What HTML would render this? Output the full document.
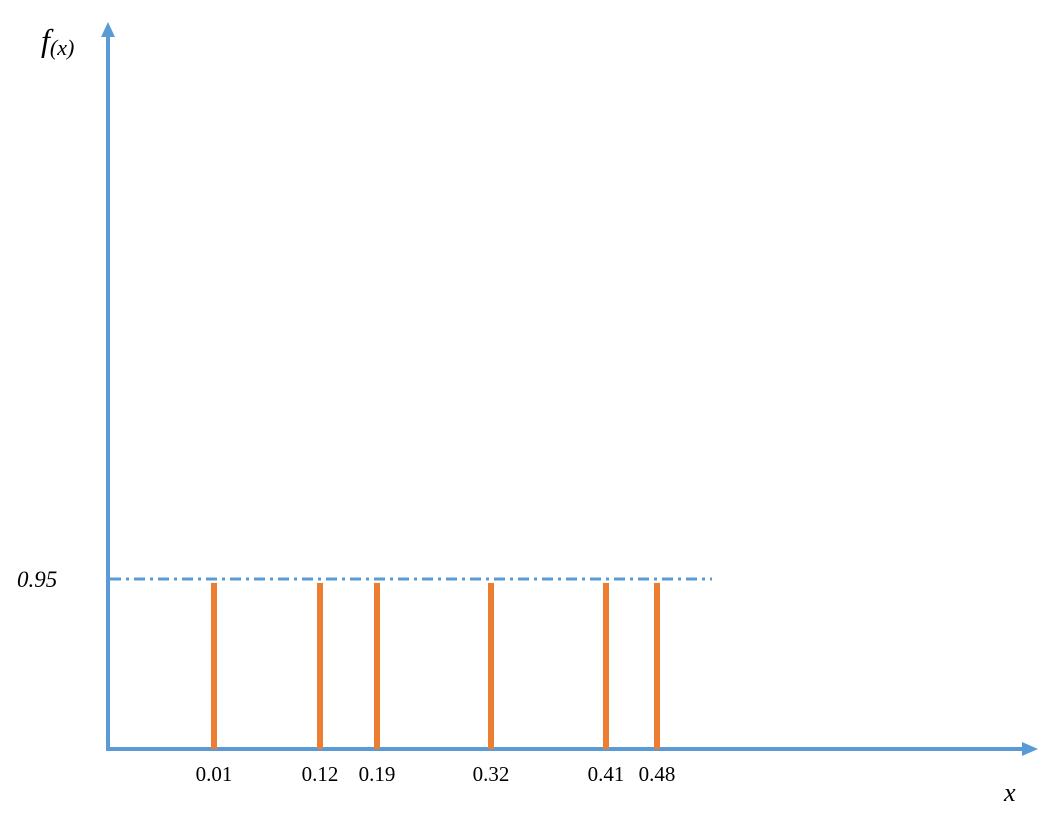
<!DOCTYPE html>
<html><head><meta charset="utf-8"><style>
html,body{margin:0;padding:0;background:#fff;}
svg{display:block;}
text{font-family:"Liberation Serif",serif;}
</style></head><body>
<svg id="chart" width="1053" height="818" viewBox="0 0 1053 818" xmlns="http://www.w3.org/2000/svg">
<line x1="108" y1="751" x2="108" y2="34" stroke="#5B9BD5" stroke-width="4"/>
<polygon points="108,22 101,37 115,37" fill="#5B9BD5"/>
<line x1="106" y1="749" x2="1024" y2="749" stroke="#5B9BD5" stroke-width="4"/>
<polygon points="1038,749 1022,742 1022,756" fill="#5B9BD5"/>
<text x="41" y="51" font-size="32" font-style="italic">f<tspan font-size="22" dy="4">(x)</tspan></text>
<text x="1004" y="801" font-size="26" font-style="italic">x</text>
<g id="marks"></g>
</svg>
<script>
const categories = ["0.01","0.12","0.19","0.32","0.41","0.48"];
const xValues = [0.01,0.12,0.19,0.32,0.41,0.48];
const probValues = [0.95,0.95,0.95,0.95,0.95,0.95];
const refLevel = [0.95];
const refLabel = ["0.95"];

// piecewise-linear x axis (the drawing's axis is not to scale)
const xDomain = [0, 0.01, 0.12, 0.19, 0.32, 0.41, 0.48, 1];
const xRange = [108, 214, 320, 377, 491, 606, 657, 1030];
function xScale(v) {
  for (let i = 0; i < xDomain.length - 1; i++) {
    if (v <= xDomain[i + 1] || i === xDomain.length - 2) {
      const t = (v - xDomain[i]) / (xDomain[i + 1] - xDomain[i]);
      return xRange[i] + t * (xRange[i + 1] - xRange[i]);
    }
  }
}
const yScale = v => 749 - v * 179;
const NS = "http://www.w3.org/2000/svg";
const g = document.getElementById("marks");

const ref = document.createElementNS(NS, "line");


ref.setAttribute("x1", 110); ref.setAttribute("x2", 712);
ref.setAttribute("y1", yScale(refLevel[0])); ref.setAttribute("y2", yScale(refLevel[0]));
ref.setAttribute("stroke", "#5B9BD5"); ref.setAttribute("stroke-width", "3");
ref.setAttribute("stroke-dasharray", "11 5 3 5");
g.appendChild(ref);

const rl = document.createElementNS(NS, "text");


rl.setAttribute("x", 17); rl.setAttribute("y", yScale(refLevel[0]) + 8);
rl.setAttribute("font-size", "23"); rl.setAttribute("font-style", "italic");
rl.textContent = refLabel[0];
g.appendChild(rl);

xValues.forEach((v, i) => {
  const b = document.createElementNS(NS, "rect");
  
  
  const top = yScale(probValues[i]) + 4;
  b.setAttribute("x", xScale(v) - 3); b.setAttribute("y", top);
  b.setAttribute("width", 6); b.setAttribute("height", 749 - top);
  b.setAttribute("fill", "#ED7D31");
  g.appendChild(b);
  const t = document.createElementNS(NS, "text");
  
  
  t.setAttribute("x", xScale(v)); t.setAttribute("y", 781);
  t.setAttribute("font-size", "21"); t.setAttribute("text-anchor", "middle");
  t.textContent = categories[i];
  g.appendChild(t);
});
</script>
</body></html>
